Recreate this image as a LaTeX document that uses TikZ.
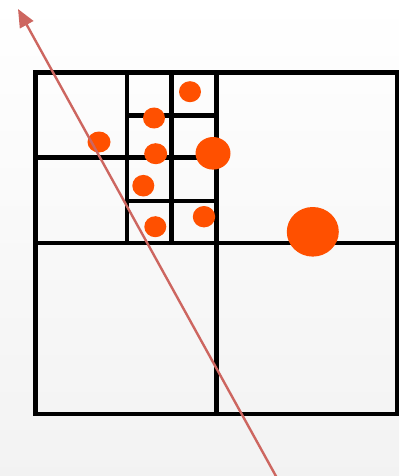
\documentclass[tikz,border=0pt]{standalone}
\usetikzlibrary{arrows.meta}
\definecolor{dotorange}{HTML}{FF5000}
\definecolor{rayred}{HTML}{CD6660}
\tikzset{
  grid line/.style={line width=4.8pt, black, line cap=rect},
  dot/.style={fill=dotorange, draw=none},
  ray/.style={rayred, line width=2.4pt, -{Triangle[length=18pt,width=15pt]}}
}
\begin{document}
\begin{tikzpicture}[x=1pt,y=-1pt]
\useasboundingbox (0,0) rectangle (399,476);
\shade[top color=white, bottom color=black!5] (0,0) rectangle (399,476);
% outer square and main split
\draw[grid line] (35.5,72.5) rectangle (397,414);
\draw[grid line] (216.5,72.5) -- (216.5,414);
\draw[grid line] (35.5,243) -- (397,243);
% top-left quadrant split
\draw[grid line] (127,72.5) -- (127,243);
\draw[grid line] (35.5,157.5) -- (216.5,157.5);
% finer splits
\draw[grid line] (171.5,72.5) -- (171.5,243);
\draw[grid line] (127,115.5) -- (216.5,115.5);
\draw[grid line] (127,201) -- (216.5,201);
% dots
\fill[dot] (190,91.7) ellipse [x radius=11, y radius=10.5];
\fill[dot] (154,118) ellipse [x radius=11, y radius=10.5];
\fill[dot] (99,142) ellipse [x radius=11.5, y radius=10.5];
\fill[dot] (155.7,153.7) ellipse [x radius=11.5, y radius=10.5];
\fill[dot] (213,153.3) ellipse [x radius=17.5, y radius=16.3];
\fill[dot] (143.3,185.7) ellipse [x radius=11, y radius=10.8];
\fill[dot] (204,216.7) ellipse [x radius=11.2, y radius=10.7];
\fill[dot] (155.3,226.7) ellipse [x radius=11, y radius=10.5];
\fill[dot] (312.8,231.8) ellipse [x radius=26, y radius=24.8];
% ray
\coordinate (raystart) at (277,478);
\coordinate (raytip) at (18,9);
\draw[ray] (raystart) -- (raytip);
\end{tikzpicture}
\end{document}
